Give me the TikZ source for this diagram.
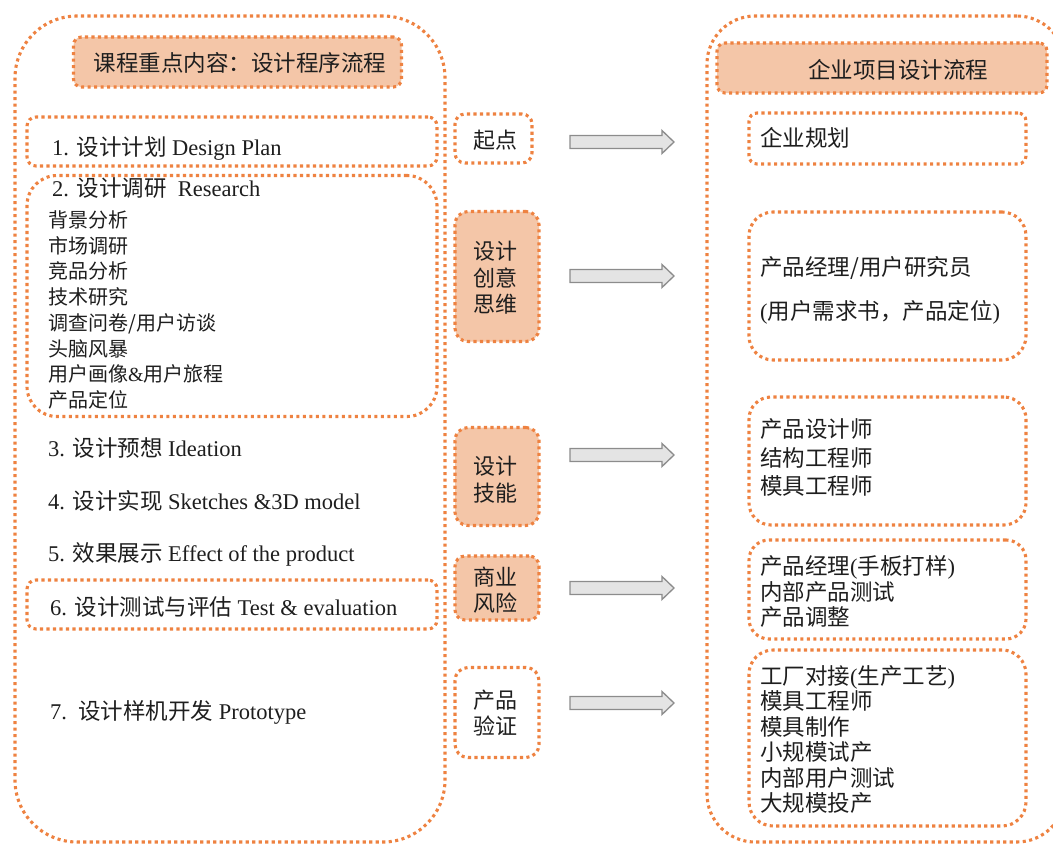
\documentclass[tikz,border=0pt]{standalone}
\usepackage{fontspec}
\setmainfont{Liberation Serif}
\newfontfamily\zhf{Noto Sans CJK SC}
\newcommand{\zh}[1]{{\zhf #1}}
\definecolor{dotorange}{HTML}{EE8241}
\definecolor{peach}{HTML}{F4C6A8}
\definecolor{arrowfill}{HTML}{E4E4E4}
\definecolor{arrowline}{HTML}{8C8C8C}
\definecolor{txt}{HTML}{1E1E1E}
\newcommand{\blkarrow}[2]{%
  \coordinate (#2s) at (570,#1);
  \coordinate (#2e) at (674,#1);
  \draw[arrowst] ([yshift=-6.5pt]#2s) -- ([xshift=-12pt,yshift=-6.5pt]#2e) -- ([xshift=-12pt,yshift=-11.5pt]#2e)
    -- (#2e) -- ([xshift=-12pt,yshift=11.5pt]#2e) -- ([xshift=-12pt,yshift=6.5pt]#2e) -- ([yshift=6.5pt]#2s) -- cycle;}
\begin{document}
\begin{tikzpicture}[x=1pt,y=-1pt,
  dotbox/.style={draw=dotorange, line width=3.1pt, dash pattern=on 3.1pt off 3.4pt, inner sep=0pt},
  bigbox/.style={dotbox, rounded corners=#1},
  peachbox/.style={dotbox, fill=peach},
  lbl/.style={inner sep=0pt, text=txt, anchor=west},
  mainfont/.style={font=\fontsize{22.5}{27}\selectfont},
  listfont/.style={font=\fontsize{20}{25.7}\selectfont, align=left},
  rfont/.style={font=\fontsize{22.5}{25.5}\selectfont, align=left},
  midfont/.style={font=\fontsize{22}{26.5}\selectfont, align=center, inner sep=0pt, text=txt},
  arrowst/.style={draw=arrowline, fill=arrowfill, line width=1.3pt, line join=miter}
]
\useasboundingbox (0,0) rectangle (1053,844);

% ---------- left column ----------
\node[bigbox=62pt, minimum width=430pt, minimum height=826pt] (leftbig) at (230,429) {};
\node[peachbox, rounded corners=8pt, minimum width=328pt, minimum height=50pt] (ltitle) at (237.5,62) {};
\node[inner sep=0pt, text=txt, font=\fontsize{22.5}{27}\selectfont] (ltitletext) at (240,63) {\zh{课程重点内容：设计程序流程}};

\node[dotbox, rounded corners=9pt, minimum width=410pt, minimum height=49pt] (box1) at (232,141.5) {};
\node[lbl, mainfont] (t1) at (52,148) {1. \zh{设计计划} Design Plan};

\node[dotbox, rounded corners=30pt, minimum width=410pt, minimum height=241pt] (box2) at (232,296) {};
\node[lbl, mainfont] (t2) at (52,188) {2. \zh{设计调研}\ \ Research};
\node[lbl, listfont] (t2list) at (48,310) {\zh{背景分析}\\\zh{市场调研}\\\zh{竞品分析}\\\zh{技术研究}\\\zh{调查问卷/用户访谈}\\\zh{头脑风暴}\\\zh{用户画像}\&\zh{用户旅程}\\\zh{产品定位}};

\node[lbl, mainfont] (t3) at (48,448) {3. \zh{设计预想} Ideation};
\node[lbl, mainfont] (t4) at (48,501) {4. \zh{设计实现} Sketches \&3D model};
\node[lbl, mainfont] (t5) at (48,554) {5. \zh{效果展示} Effect of the product};

\node[dotbox, rounded corners=9pt, minimum width=410pt, minimum height=49pt] (box6) at (232,604.5) {};
\node[lbl, mainfont] (t6) at (50,607) {6. \zh{设计测试与评估} Test \& evaluation};

\node[lbl, mainfont] (t7) at (50,712) {7.\ \ \zh{设计样机开发} Prototype};

% ---------- middle column ----------
\node[dotbox, fill=white, rounded corners=10pt, minimum width=77pt, minimum height=49pt] (m1) at (493.5,138.5) {};
\node[midfont] (m1t) at (495,140) {\zh{起点}};

\node[peachbox, rounded corners=13pt, minimum width=84pt, minimum height=130pt] (m2) at (497,276.5) {};
\node[midfont] (m2t) at (495,278) {\zh{设计}\\\zh{创意}\\\zh{思维}};

\node[peachbox, rounded corners=13pt, minimum width=84pt, minimum height=98pt] (m3) at (497,476.5) {};
\node[midfont] (m3t) at (495,479.5) {\zh{设计}\\\zh{技能}};

\node[peachbox, rounded corners=10pt, minimum width=84pt, minimum height=64pt] (m4) at (497,588) {};
\node[midfont] (m4t) at (495,590) {\zh{商业}\\\zh{风险}};

\node[dotbox, fill=white, rounded corners=13pt, minimum width=84pt, minimum height=90pt] (m5) at (497,712.5) {};
\node[midfont] (m5t) at (495,713) {\zh{产品}\\\zh{验证}};

% ---------- arrows ----------
\blkarrow{142}{a1}
\blkarrow{276}{a2}
\blkarrow{455}{a3}
\blkarrow{588}{a4}
\blkarrow{703}{a5}

% ---------- right column ----------
\node[bigbox=48pt, minimum width=358pt, minimum height=826pt] (rightbig) at (886,429) {};
\node[peachbox, rounded corners=8pt, minimum width=330pt, minimum height=50pt] (rtitle) at (882,68) {};
\node[inner sep=0pt, text=txt, font=\fontsize{22.5}{27}\selectfont] (rtitletext) at (898,70) {\zh{企业项目设计流程}};

\node[dotbox, rounded corners=8pt, minimum width=277pt, minimum height=51pt] (r1) at (887.5,138.5) {};
\node[lbl, rfont] (r1t) at (760,138) {\zh{企业规划}};

\node[dotbox, rounded corners=24pt, minimum width=277pt, minimum height=148pt] (r2) at (887.5,286) {};
\node[lbl, font=\fontsize{22.5}{44}\selectfont, align=left] (r2t) at (760,290) {\zh{产品经理/用户研究员}\\(\zh{用户需求书，产品定位})};

\node[dotbox, rounded corners=22pt, minimum width=277pt, minimum height=128pt] (r3) at (887.5,461) {};
\node[lbl, font=\fontsize{22.5}{28.5}\selectfont, align=left] (r3t) at (760,457.5) {\zh{产品设计师}\\\zh{结构工程师}\\\zh{模具工程师}};

\node[dotbox, rounded corners=20pt, minimum width=277pt, minimum height=99pt] (r4) at (887.5,589.5) {};
\node[lbl, rfont] (r4t) at (760,591.5) {\zh{产品经理}(\zh{手板打样})\\\zh{内部产品测试}\\\zh{产品调整}};

\node[dotbox, rounded corners=24pt, minimum width=277pt, minimum height=176pt] (r5) at (887.5,738) {};
\node[lbl, rfont] (r5t) at (760,739.5) {\zh{工厂对接}(\zh{生产工艺})\\\zh{模具工程师}\\\zh{模具制作}\\\zh{小规模试产}\\\zh{内部用户测试}\\\zh{大规模投产}};
\end{tikzpicture}
\end{document}
